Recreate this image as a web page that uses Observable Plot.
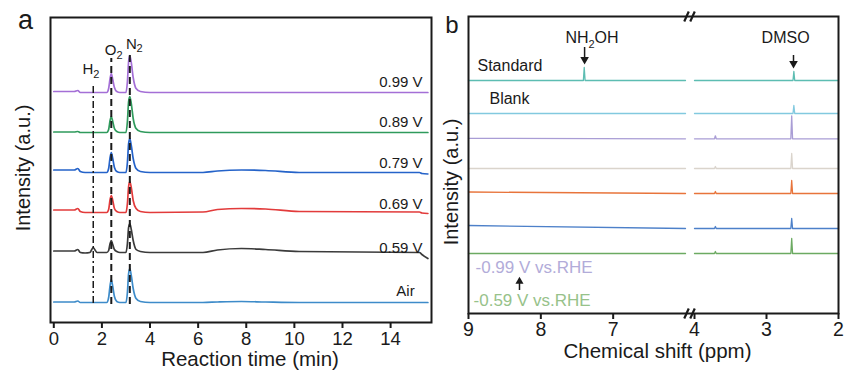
<!DOCTYPE html>
<html><head><meta charset="utf-8">
<script src="https://cdn.jsdelivr.net/npm/d3@7"></script>
<script src="https://cdn.jsdelivr.net/npm/@observablehq/plot@0.6"></script>
<style>
html,body{margin:0;padding:0;background:#fff;}
#wrap{position:relative;width:845px;height:371px;overflow:hidden;background:#fff;}
#pa{position:absolute;left:0;top:0;}
#pb{position:absolute;left:440px;top:0;}
</style></head>
<body><div id="wrap"><div id="pa"></div><div id="pb"></div></div>
<script>
// ---------- Panel a: GC traces ----------
const gcTimes = [0, 0.85, 1.0, 1.1, 1.3, 1.5, 1.58, 1.64, 1.70, 1.8,
  2.2, 2.28, 2.34, 2.39, 2.45, 2.52, 2.62, 2.75,
  3.0, 3.06, 3.11, 3.16, 3.22, 3.3, 3.42, 3.6,
  4.0, 6.2, 6.8, 7.8, 8.8, 10.2, 15.2, 15.3, 15.55];
const gcSeries = ["0.99 V", "0.89 V", "0.79 V", "0.69 V", "0.59 V", "Air"];
const gcColors = ["#a46fd6", "#2f9a5c", "#2563c9", "#e23b3b", "#3b3b3b", "#3d8bc9"];
const gcOffsets = [230, 190, 150, 110, 70, 20];
const gc099 = [1,1,2,0,0,0,0,0,0,0, 0,4,14,19,13,5,1,0, 0,11,31,37,30,15,4,1, 0,0,0,0,0,0,0,0,0];
const gc089 = [0.5,0.5,1,0,0,0,0,0,0,0, 0,3,12,16,11,4,1,0, 0,11,31,36,29,14,4,1, 0,0,0,0,0,0,0,0,0];
const gc079 = [2.5,2.5,4,1,0,0,0,0,0,0, 0,4,15,20,14,5,1,0, 0,10,29,34,27,14,4,1, 0,0,1.5,2.5,2,0,0,-1,-1.5];
const gc069 = [2.5,2.5,4,1,0,0,0,0,0,0, 0,3,13,17,12,4,1,0, 0,9,26,31,25,12,4,1, 0,0.5,3,4,3.5,1,0.5,-0.5,-1];
const gc059 = [1.5,1.5,3,0,-0.5,0,3,5,3,0, 0,2,9,12,8,3,1,0, 0,9,25,29,23,12,3,1, 0,0,2.5,4,3,1,0,-2,-6];
const gcAir = [0.5,0.5,1.5,0,0,0,0,0,0,0, 0,5,17,23,16,6,1,0, 0,10,29,34,27,14,4,1, 0,0,0.5,1,0.5,0,0,0,0];
const gcValues = [gc099, gc089, gc079, gc069, gc059, gcAir];
const gcTicks = [0, 2, 4, 6, 8, 10, 12, 14];
const gcPeakTimes = {H2: 1.64, O2: 2.39, N2: 3.16};

// ---------- Panel b: NMR spectra ----------
const nmrSeries = ["Standard", "Blank", "-0.99 V", "-0.89 V", "-0.79 V", "-0.69 V", "-0.59 V"];
const nmrColors = ["#5dbdb2", "#82c9df", "#a99dd5", "#dad4cc", "#e8743b", "#4d80c9", "#6caa62"];
const nmrOffsets = [233, 200, 174.7, 145, 120, 85, 60];
const nmrLeftTilt = [0, 0, 0.5, 0, 1.5, 3, 0];
const nmrNH2OH = [13, 0, 0, 0, 0, 0, 0];
const nmrDMSO = [9, 8, 23, 15, 13, 10, 15];
const nmrDMSOShift = [2.62, 2.62, 2.65, 2.65, 2.65, 2.65, 2.65];
const nmrMinor = [0, 0, 3, 2, 2, 2, 2];
const nmrNH2OHShift = 7.40;
const nmrMinorShift = 3.71;
const nmrTicks = [9, 8, 7, 4, 3, 2];

const FONT = "'Liberation Sans', Arial, sans-serif";
const INK = "#1a1a1a";
const MID = {textAnchor: "middle", lineAnchor: "middle"};

// rows for panel a
const gcRows = gcSeries.flatMap((s, i) => gcTimes.map((t, j) => ({s, t, v: gcOffsets[i] + gcValues[i][j]})));

const plotA = Plot.plot({
  width: 440, height: 371,
  marginLeft: 50, marginRight: 9, marginTop: 17, marginBottom: 49,
  style: {fontFamily: FONT, background: "white", color: INK, overflow: "visible"},
  x: {domain: [-0.137, 15.70]},
  y: {domain: [0, 305], axis: null},
  marks: [
    ...gcSeries.map((s, i) => Plot.line(gcRows.filter(r => r.s === s), {
      x: "t", y: "v", stroke: gcColors[i], strokeWidth: 1.7, curve: "monotone-x"})),
    Plot.ruleX([gcPeakTimes.H2], {y1: 19, y2: 237, stroke: INK, strokeWidth: 1.5, strokeDasharray: "7,3,2,3"}),
    Plot.ruleX([gcPeakTimes.O2], {y1: 18, y2: 264, stroke: INK, strokeWidth: 2, strokeDasharray: "7,4"}),
    Plot.ruleX([gcPeakTimes.N2], {y1: 18, y2: 270, stroke: INK, strokeWidth: 2, strokeDasharray: "7,4"}),
    Plot.frame({stroke: INK, strokeWidth: 2}),
    Plot.axisX({ticks: gcTicks, tickSize: 6, tickPadding: 3, fontSize: 18.5, strokeWidth: 2, label: null, tickFormat: d => String(d)}),
    // gas labels
    Plot.text(["H", "O", "N"], {x: [1.42, 2.36, 3.23], y: [253, 272, 278], text: d => d, fontSize: 15, fill: INK}),
    Plot.text(["2", "2", "2"], {x: [1.77, 2.73, 3.56], y: [248, 267, 274], text: d => d, fontSize: 11, fill: INK}),
    // series labels
    Plot.text(gcSeries.slice(0, 5), {x: 15.33, y: [240, 200, 159, 118, 74], text: d => d, textAnchor: "end", fontSize: 15, fill: INK}),
    Plot.text([gcSeries[5]], {x: 15.0, y: 31, text: d => d, textAnchor: "end", fontSize: 15, fill: INK}),
    // titles
    Plot.text(["Reaction time (min)"], {frameAnchor: "bottom", ...MID, dx: 9, dy: 37, fontSize: 20.5, fill: INK}),
    Plot.text(["Intensity (a.u.)"], {frameAnchor: "left", ...MID, rotate: -90, dx: -27, dy: -2, fontSize: 20, fill: INK}),
    Plot.text(["a"], {frameAnchor: "top-left", ...MID, dx: -25, dy: 3, fontSize: 27, fill: INK})
  ]
});
document.getElementById("pa").appendChild(plotA);

// rows for panel b
const nmrRows = [];
nmrSeries.forEach((s, i) => {
  const b = nmrOffsets[i];
  const left = [[9, b + nmrLeftTilt[i]]];
  if (nmrNH2OH[i] > 0) left.push([nmrNH2OHShift + 0.012, b], [nmrNH2OHShift, b + nmrNH2OH[i]], [nmrNH2OHShift - 0.012, b]);
  left.push([6, b]);
  const right = [[4, b]];
  if (nmrMinor[i] > 0) right.push([nmrMinorShift + 0.012, b], [nmrMinorShift, b + nmrMinor[i]], [nmrMinorShift - 0.012, b]);
  const d = nmrDMSOShift[i];
  right.push([d + 0.012, b], [d, b + nmrDMSO[i]], [d - 0.012, b], [2, b]);
  left.forEach(([x, y]) => nmrRows.push({s, seg: s + "L", x, y}));
  right.forEach(([x, y]) => nmrRows.push({s, seg: s + "R", x, y}));
});

const plotB = Plot.plot({
  width: 405, height: 371,
  marginLeft: 28, marginRight: 7, marginTop: 16, marginBottom: 58,
  style: {fontFamily: FONT, background: "white", color: INK, overflow: "visible"},
  x: {type: "linear", domain: [9, 6, 4, 2], range: [28, 245, 254, 398]},
  y: {domain: [0, 297], axis: null},
  marks: [
    ...nmrSeries.map((s, i) => Plot.line(nmrRows.filter(r => r.s === s), {
      x: "x", y: "y", z: "seg", stroke: nmrColors[i], strokeWidth: 1.3})),
    Plot.frame({stroke: INK, strokeWidth: 2}),
    // axis-break marks
    Plot.link([0, 297], {x1: 5.5, x2: 4.5, y1: d => d - 5, y2: d => d + 5, stroke: INK, strokeWidth: 2.2, dx: -3.5}),
    Plot.link([0, 297], {x1: 5.5, x2: 4.5, y1: d => d - 5, y2: d => d + 5, stroke: INK, strokeWidth: 2.2, dx: 2.5}),
    Plot.axisX({ticks: nmrTicks, tickSize: 6, tickPadding: 3, fontSize: 19.5, strokeWidth: 2, label: null, tickFormat: d => String(d)}),
    // annotations
    Plot.text(["NH"], {x: 7.659, y: 276, text: d => d, textAnchor: "start", fontSize: 16, fill: INK}),
    Plot.text(["2"], {x: 7.341, y: 269, text: d => d, textAnchor: "start", fontSize: 11, fill: INK}),
    Plot.text(["OH"], {x: 7.258, y: 276, text: d => d, textAnchor: "start", fontSize: 16, fill: INK}),
    Plot.ruleX([7.395], {y1: 266, y2: 255, stroke: INK, strokeWidth: 1.5}),
    Plot.dot([7.395], {x: d => d, y: 254, symbol: "triangle", r: 3.2, rotate: 180, fill: INK, stroke: null}),
    Plot.text(["DMSO"], {x: 2.735, y: 276, text: d => d, fontSize: 16, fill: INK}),
    Plot.ruleX([2.625], {y1: 258, y2: 251, stroke: INK, strokeWidth: 1.5}),
    Plot.dot([2.625], {x: d => d, y: 250, symbol: "triangle", r: 3.2, rotate: 180, fill: INK, stroke: null}),
    Plot.text([nmrSeries[0]], {x: 8.876, y: 248, text: d => d, textAnchor: "start", fontSize: 16, fill: INK}),
    Plot.text([nmrSeries[1]], {x: 8.71, y: 215, text: d => d, textAnchor: "start", fontSize: 16, fill: INK}),
    Plot.text([nmrSeries[2] + " vs.RHE"], {x: 8.903, y: 46, text: d => d, textAnchor: "start", fontSize: 17, fill: "#b2acd9"}),
    Plot.text([nmrSeries[6] + " vs.RHE"], {x: 8.93, y: 13, text: d => d, textAnchor: "start", fontSize: 17, fill: "#97c28a"}),
    Plot.ruleX([8.295], {y1: 23, y2: 31, stroke: INK, strokeWidth: 1.5}),
    Plot.dot([8.295], {x: d => d, y: 32, symbol: "triangle", r: 3, fill: INK, stroke: null}),
    // titles
    Plot.text(["Chemical shift (ppm)"], {frameAnchor: "bottom", ...MID, dx: 4, dy: 38, fontSize: 20.5, fill: INK}),
    Plot.text(["Intensity (a.u.)"], {frameAnchor: "left", ...MID, rotate: -90, dx: -17, dy: 17, fontSize: 20, fill: INK}),
    Plot.text(["b"], {frameAnchor: "top-left", ...MID, dx: -16.5, dy: 8.5, fontSize: 24, fill: INK})
  ]
});
document.getElementById("pb").appendChild(plotB);
</script>
</body></html>
